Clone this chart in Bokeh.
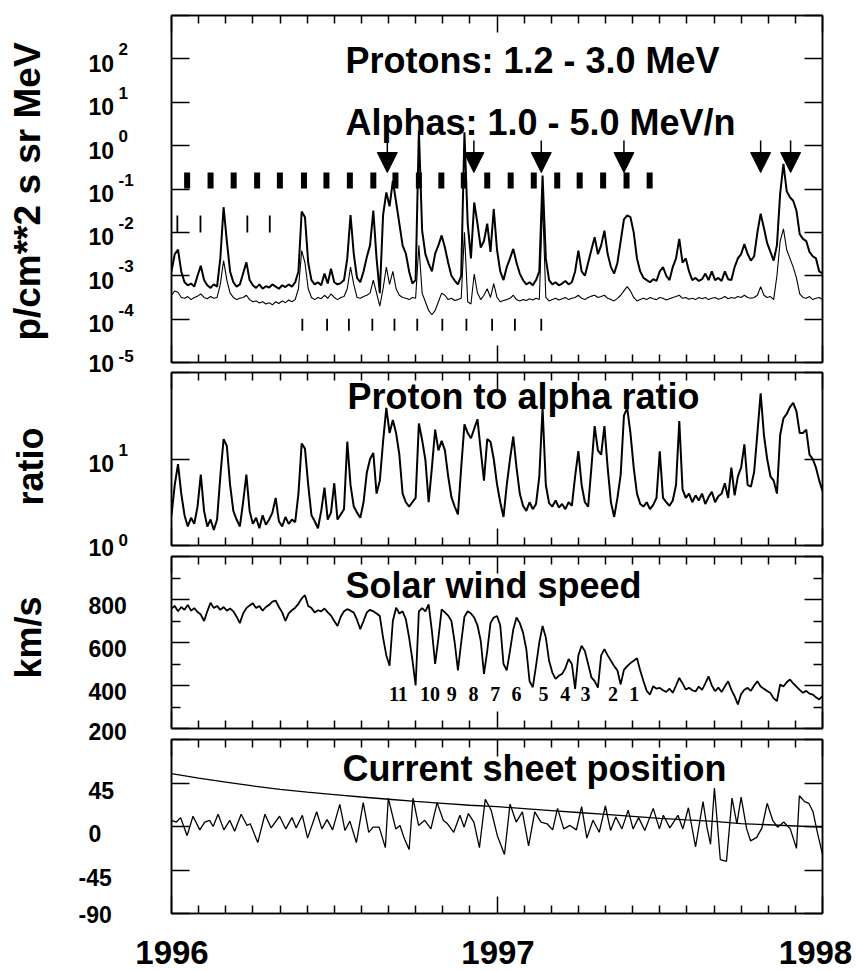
import numpy as np
from bokeh.plotting import figure
from bokeh.layouts import column, row
from bokeh.models import (Range1d, FixedTicker, LinearAxis, LogAxis, Label,
                          Arrow, NormalHead, ColumnDataSource, CustomJSTickFormatter)
from bokeh.embed import file_html
from bokeh.resources import INLINE
from bokeh.core.properties import value

SANS = "Liberation Sans"
SERIF = "Liberation Serif"

# ---------------------------------------------------------------- data
# quantities sampled every 0.01 yr from 1996.00 to 1998.00
sample_years = 1996 + np.arange(201) / 100.0

# proton and alpha intensities, log10(p/cm**2 s sr MeV)
proton_log10 = [
    -2.90, -2.50, -2.40, -2.90, -3.15, -3.22, -3.18, -3.25, -3.00, -2.77,
    -3.10, -3.22, -3.28, -3.20, -3.25, -2.60, -1.42, -2.20, -2.90, -3.15,
    -3.25, -3.20, -2.95, -2.69, -3.10, -3.22, -3.28, -3.20, -3.30, -3.24,
    -3.27, -3.20, -3.25, -3.30, -3.22, -3.26, -3.20, -3.25, -3.15, -2.90,
    -1.52, -1.65, -2.70, -3.10, -3.20, -3.15, -3.22, -2.95, -3.18, -2.84,
    -3.15, -3.20, -3.17, -3.10, -2.60, -1.60, -2.50, -3.05, -3.15, -2.90,
    -2.57, -2.30, -1.50, -2.60, -3.40, -1.60, -1.08, -1.40, -0.81, -1.30,
    -1.80, -2.30, -2.49, -2.90, -3.18, -3.10, 0.35, -1.96, -2.50, -2.72,
    -2.90, -2.49, -2.30, -2.07, -2.35, -2.70, -3.00, -3.11, -3.20, -3.00,
    0.31, -1.80, -2.60, -1.31, -1.80, -2.35, -2.20, -1.80, -2.45, -1.46,
    -2.40, -2.90, -3.10, -2.80, -2.60, -2.38, -2.70, -2.95, -3.10, -3.20,
    -3.15, -3.22, -3.10, -2.90, -0.69, -2.60, -3.10, -3.20, -3.15, -3.22,
    -3.18, -3.12, -3.20, -3.15, -2.90, -2.42, -2.90, -3.00, -2.70, -2.40,
    -2.11, -2.50, -2.30, -1.96, -2.50, -2.80, -2.95, -2.70, -2.20, -1.70,
    -1.61, -1.65, -2.00, -2.60, -2.90, -3.05, -3.10, -3.15, -3.08, -3.12,
    -2.90, -2.80, -3.00, -3.10, -2.80, -2.60, -2.15, -2.70, -2.60, -2.90,
    -3.10, -3.05, -3.12, -3.08, -2.95, -3.10, -2.90, -3.10, -3.05, -3.12,
    -2.90, -3.08, -3.10, -2.80, -2.60, -2.50, -2.27, -2.50, -2.65, -2.55,
    -2.00, -1.57, -1.90, -2.25, -2.45, -2.65, -2.30, -1.10, -0.42, -1.05,
    -1.19, -1.27, -1.50, -2.04, -2.15, -2.20, -2.45, -2.55, -2.60, -2.90,
    -2.95,
]

alpha_log10 = [
    -3.45, -3.35, -3.38, -3.50, -3.52, -3.48, -3.55, -3.50, -3.47, -3.42,
    -3.50, -3.53, -3.48, -3.52, -3.50, -3.20, -2.65, -3.10, -3.40, -3.50,
    -3.55, -3.52, -3.50, -3.45, -3.55, -3.60, -3.58, -3.63, -3.60, -3.65,
    -3.62, -3.67, -3.60, -3.64, -3.58, -3.62, -3.56, -3.60, -3.55, -3.30,
    -2.42, -2.70, -3.30, -3.50, -3.55, -3.50, -3.53, -3.45, -3.52, -3.42,
    -3.50, -3.55, -3.50, -3.48, -3.30, -2.80, -3.20, -3.50, -3.52, -3.48,
    -3.45, -3.40, -3.10, -3.40, -3.70, -3.30, -2.80, -3.20, -2.90, -3.30,
    -3.45, -3.50, -3.52, -3.55, -3.50, -3.52, -2.30, -3.40, -3.60, -3.80,
    -3.90, -3.80, -3.60, -3.40, -3.45, -3.55, -3.52, -3.57, -3.55, -3.52,
    -2.00, -3.60, -3.65, -2.96, -3.40, -3.55, -3.45, -3.30, -3.50, -3.18,
    -3.50, -3.60, -3.57, -3.55, -3.52, -3.45, -3.55, -3.58, -3.55, -3.57,
    -3.53, -3.56, -3.52, -3.55, -1.30, -3.50, -3.58, -3.55, -3.52, -3.56,
    -3.53, -3.50, -3.55, -3.52, -3.50, -3.45, -3.52, -3.55, -3.50, -3.47,
    -3.45, -3.50, -3.48, -3.45, -3.52, -3.55, -3.58, -3.52, -3.45, -3.35,
    -3.25, -3.35, -3.50, -3.58, -3.55, -3.52, -3.55, -3.50, -3.53, -3.55,
    -3.50, -3.52, -3.56, -3.53, -3.50, -3.48, -3.45, -3.52, -3.50, -3.54,
    -3.52, -3.55, -3.50, -3.53, -3.50, -3.55, -3.52, -3.50, -3.54, -3.52,
    -3.48, -3.53, -3.50, -3.52, -3.48, -3.50, -3.45, -3.50, -3.52, -3.50,
    -3.45, -3.25, -3.45, -3.50, -3.48, -3.55, -3.00, -2.20, -1.92, -2.40,
    -2.60, -2.80, -3.05, -3.42, -3.50, -3.52, -3.48, -3.55, -3.52, -3.50,
    -3.55,
]

# proton to alpha ratio, log10
ratio_log10 = [
    0.35, 0.70, 0.94, 0.60, 0.35, 0.22, 0.32, 0.25, 0.45, 0.82,
    0.40, 0.22, 0.30, 0.18, 0.30, 0.80, 1.23, 1.15, 0.70, 0.40,
    0.30, 0.22, 0.50, 0.82, 0.40, 0.25, 0.32, 0.20, 0.35, 0.24,
    0.30, 0.38, 0.55, 0.28, 0.22, 0.33, 0.25, 0.30, 0.27, 0.60,
    1.18, 1.12, 0.70, 0.35, 0.28, 0.20, 0.40, 0.67, 0.30, 0.38,
    0.72, 0.30, 0.36, 0.42, 1.20, 0.70, 0.45, 0.38, 0.32, 0.50,
    0.84, 1.00, 1.07, 0.60, 0.75, 1.20, 1.59, 1.30, 1.45, 1.30,
    1.05, 0.60, 0.50, 0.45, 0.50, 0.55, 1.41, 1.22, 0.99, 0.50,
    0.90, 1.34, 1.10, 1.21, 1.10, 0.80, 0.56, 0.45, 0.36, 0.90,
    1.40, 1.30, 1.24, 1.35, 1.46, 1.10, 0.75, 1.23, 1.20, 1.00,
    0.71, 0.50, 0.33, 0.70, 1.00, 1.26, 0.90, 0.60, 0.46, 0.40,
    0.50, 0.42, 0.48, 0.80, 1.59, 0.70, 0.49, 0.45, 0.52, 0.44,
    0.48, 0.42, 0.50, 0.46, 0.80, 1.09, 0.70, 0.50, 0.45, 0.90,
    1.38, 1.10, 1.05, 1.38, 0.90, 0.50, 0.33, 0.55, 0.82, 1.50,
    1.59, 1.30, 0.90, 0.60, 0.48, 0.45, 0.50, 0.42, 0.47, 0.55,
    1.09, 0.55, 0.50, 0.46, 0.52, 0.70, 1.44, 0.65, 0.55, 0.60,
    0.50, 0.58, 0.52, 0.60, 0.48, 0.56, 0.62, 0.50, 0.57, 0.60,
    0.72, 0.55, 0.90, 0.58, 0.80, 0.90, 1.17, 0.70, 0.68, 0.85,
    1.30, 1.76, 1.28, 1.00, 0.80, 0.75, 0.60, 1.28, 1.47, 1.52,
    1.60, 1.65, 1.55, 1.30, 1.30, 1.34, 1.05, 1.00, 0.90, 0.75,
    0.63,
]

# solar wind speed, km/s
wind_speed = [
    758, 770, 745, 765, 752, 775, 748, 760, 742, 730,
    700, 745, 785, 760, 770, 752, 765, 748, 758, 745,
    720, 690, 735, 760, 772, 782, 760, 770, 748, 765,
    775, 790, 795, 765, 740, 700, 735, 750, 762, 780,
    805, 820, 770, 760, 740, 750, 745, 758, 740, 725,
    700, 677, 720, 745, 755, 748, 739, 705, 662, 700,
    740, 752, 745, 735, 723, 623, 540, 492, 700, 762,
    735, 745, 708, 623, 520, 400, 745, 760, 745, 777,
    654, 500, 620, 754, 740, 725, 700, 600, 470, 600,
    720, 745, 735, 716, 680, 608, 454, 560, 690, 716,
    723, 680, 500, 470, 562, 660, 716, 690, 646, 570,
    420, 392, 492, 600, 677, 623, 515, 460, 431, 445,
    454, 480, 523, 500, 384, 540, 585, 560, 500, 438,
    420, 390, 540, 569, 540, 515, 490, 470, 405, 473,
    490, 504, 515, 527, 470, 420, 375, 358, 397, 385,
    389, 378, 370, 385, 366, 400, 435, 410, 381, 390,
    378, 372, 395, 380, 410, 443, 400, 374, 390, 370,
    395, 420, 380, 350, 312, 360, 380, 389, 375, 400,
    420, 395, 385, 374, 365, 340, 328, 405, 395, 415,
    428, 410, 395, 380, 366, 375, 362, 358, 345, 335,
    351,
]

# recurrence markers in the intensity panel
rotation_years = [1996.048, 1996.120, 1996.191, 1996.263, 1996.333, 1996.407,
                  1996.476, 1996.548, 1996.620, 1996.688, 1996.760, 1996.829,
                  1996.898, 1996.970, 1997.042, 1997.113, 1997.185, 1997.254,
                  1997.326, 1997.398, 1997.469]
upper_mark_years = [1996.018, 1996.089, 1996.233, 1996.302]
lower_mark_years = [1996.402, 1996.478, 1996.545, 1996.617, 1996.685, 1996.755,
                    1996.832, 1996.906, 1996.985, 1997.055, 1997.136]
arrow_years = [1996.663, 1996.929, 1997.136, 1997.390, 1997.810, 1997.902]

# numbered slow-wind intervals
stream_labels = ["11", "10", "9", "8", "7", "6", "5", "4", "3", "2", "1"]
stream_years = [1996.697, 1996.794, 1996.861, 1996.928, 1996.995, 1997.060,
                1997.143, 1997.210, 1997.272, 1997.356, 1997.422]

# current sheet latitude (deg) and maximum tilt
cs_offsets = [
    0.000, 0.015, 0.028, 0.048, 0.066, 0.087, 0.102, 0.117, 0.128, 0.143,
    0.161, 0.179, 0.194, 0.214, 0.232, 0.242, 0.265, 0.287, 0.306, 0.332,
    0.351, 0.370, 0.383, 0.402, 0.418, 0.446, 0.462, 0.478, 0.495, 0.517,
    0.533, 0.548, 0.568, 0.589, 0.606, 0.619, 0.638, 0.657, 0.666, 0.689,
    0.702, 0.714, 0.730, 0.742, 0.759, 0.778, 0.797, 0.816, 0.835, 0.848,
    0.867, 0.886, 0.899, 0.912, 0.929, 0.946, 0.964, 0.982, 1.001, 1.023,
    1.040, 1.059, 1.078, 1.097, 1.116, 1.135, 1.154, 1.171, 1.186, 1.205,
    1.224, 1.244, 1.260, 1.276, 1.295, 1.314, 1.333, 1.349, 1.365, 1.384,
    1.403, 1.418, 1.435, 1.454, 1.480, 1.499, 1.511, 1.531, 1.556, 1.571,
    1.588, 1.610, 1.633, 1.645, 1.656, 1.668, 1.686, 1.705, 1.722, 1.737,
    1.750, 1.767, 1.779, 1.798, 1.814, 1.830, 1.847, 1.862, 1.881, 1.901,
    1.920, 1.929, 1.945, 1.958, 1.971, 1.983, 2.000,
]
cs_latitude = [
    6.4, 4.6, 9.2, -9.5, 10.6, -3.5, 4.6, 6.4, 0.0, 12.7,
    -3.5, 6.4, -4.9, 12.7, 1.1, 2.8, -16.6, 12.7, -1.4, 10.6,
    -2.5, 9.2, -1.4, 11.6, -12.0, 15.2, -2.5, 7.1, -3.5, 22.9,
    -4.2, 5.6, -16.6, 24.7, -6.0, -0.7, -0.7, -21.9, 29.3, -2.5,
    1.1, -11.3, -23.7, 29.3, 1.1, 6.4, -2.5, 24.7, 6.4, 2.8,
    -6.0, 11.6, -0.7, 13.4, 4.6, -21.9, 28.2, 16.9, -9.5, -28.9,
    23.3, 4.6, 15.2, -20.1, 15.2, 4.6, 2.8, -3.5, 18.7, -2.5,
    1.1, -3.5, 20.5, -12.0, 6.4, -6.0, 21.2, -4.2, 9.9, -2.5,
    16.9, -2.5, 9.2, -4.2, 18.7, -2.5, 11.6, -1.4, 11.6, -2.5,
    19.4, -21.2, 25.8, -0.7, -18.4, 39.9, -34.2, -36.0, 29.3, 2.8,
    30.4, -2.5, -14.8, -11.3, -1.4, 24.0, 6.4, -0.7, 4.6, -2.5,
    -22.6, 31.8, 25.8, 24.0, 15.2, -4.2, -28.9,
]
tilt_years = 1996 + np.arange(25) / 12.0
tilt_angle = [54.7, 50.0, 46.0, 42.0, 38.5, 35.5, 33.0, 30.5, 28.2, 26.0,
              24.0, 22.0, 20.5, 18.5, 16.5, 14.5, 12.5, 10.5, 8.5, 6.8,
              5.2, 3.0, 1.8, 0.5, -0.7]

# ---------------------------------------------------------------- geometry
X0, X1 = 1996.0, 1998.0
STRIP_W = 161          # width of the left label column
PLOT_W = 856 - STRIP_W
FRAME_L, FRAME_R = 10, 34
PX_PER_YEAR = (PLOT_W - FRAME_L - FRAME_R) / (X1 - X0)
month_ticks = [1996 + k / 12.0 for k in range(1, 24) if k != 12]
blank = CustomJSTickFormatter(code="return ' '")


def style_axis(ax, ticks, minor=(), major_len=18, minor_len=8):
    ax.ticker = FixedTicker(ticks=list(ticks), minor_ticks=list(minor))
    ax.formatter = blank
    ax.major_tick_in = major_len
    ax.major_tick_out = 0
    ax.minor_tick_in = minor_len
    ax.minor_tick_out = 0
    ax.major_tick_line_width = 1.5
    ax.minor_tick_line_width = 1.5
    ax.axis_line_width = 1.5
    ax.major_label_text_font_size = "2px"
    ax.major_label_standoff = 0


def panel(height, y_range, y_type, top, bottom, yticks, yminor=(), ymin_len=8):
    p = figure(width=PLOT_W, height=height, x_range=Range1d(X0, X1), y_range=y_range,
               y_axis_type=y_type, output_backend="svg", toolbar_location=None,
               min_border_left=FRAME_L, min_border_right=FRAME_R,
               min_border_top=top, min_border_bottom=bottom)
    p.grid.visible = False
    p.outline_line_color = "black"
    p.outline_line_width = 1.5
    p.background_fill_color = "white"
    p.border_fill_color = "white"
    p.add_layout(LogAxis() if y_type == "log" else LinearAxis(), "right")
    p.add_layout(LinearAxis(), "above")
    for ax in p.xaxis:
        style_axis(ax, [1996, 1997, 1998], month_ticks, major_len=17, minor_len=8)
    for ax in p.yaxis:
        style_axis(ax, yticks, yminor, major_len=18, minor_len=ymin_len)
    return p


def title(p, x, y, s, dx, dy):
    # dy: pixels from the anchor to the vertical centre of the capitals
    p.add_layout(Label(x=x, y=y, x_offset=dx, y_offset=dy, text=s,
                       text_font=SANS, text_font_size="36px",
                       text_font_style="bold", text_align="left",
                       text_baseline="middle", text_color="black"))


# ---------------------------------------------------------------- panel 1: intensities
p1 = panel(367, Range1d(1e-5, 1e3), "log", 15, 5, [10.0 ** k for k in range(-5, 4)])
p1.line(sample_years, 10.0 ** np.array(proton_log10), line_color="black", line_width=2.0)
p1.line(sample_years, 10.0 ** np.array(alpha_log10), line_color="black", line_width=1.1)

n = len(rotation_years)
p1.segment(x0=rotation_years, y0=[10 ** -0.99] * n, x1=rotation_years, y1=[10 ** -0.62] * n,
           line_color="black", line_width=6)
n = len(upper_mark_years)
p1.segment(x0=upper_mark_years, y0=[10 ** -2.0] * n, x1=upper_mark_years, y1=[10 ** -1.61] * n,
           line_color="black", line_width=1.8)
n = len(lower_mark_years)
p1.segment(x0=lower_mark_years, y0=[10 ** -4.27] * n, x1=lower_mark_years, y1=[10 ** -3.99] * n,
           line_color="black", line_width=1.8)

n = len(arrow_years)
arrow_src = ColumnDataSource(dict(x=arrow_years, y0=[10 ** 0.12] * n, y1=[10 ** -0.62] * n))
p1.add_layout(Arrow(end=NormalHead(size=20, fill_color="black", line_color="black", line_width=1),
                    x_start="x", y_start="y0", x_end="x", y_end="y1", source=arrow_src,
                    line_color="black", line_width=1.5))
title(p1, X0, 1e3, "Protons: 1.2 - 3.0 MeV", 174, -45)
title(p1, X0, 1e3, "Alphas: 1.0 - 5.0 MeV/n", 174, -107)

# ---------------------------------------------------------------- panel 2: ratio
p2 = panel(183, Range1d(1, 100), "log", 5, 5, [1, 10, 100])
p2.line(sample_years, 10.0 ** np.array(ratio_log10), line_color="black", line_width=2.0)
title(p2, X0, 100, "Proton to alpha ratio", 176, -23.5)

# ---------------------------------------------------------------- panel 3: solar wind
p3 = panel(183, Range1d(200, 1000), "linear", 6, 5, [200, 400, 600, 800, 1000],
           [300, 500, 700, 900], ymin_len=9)
p3.line(sample_years, wind_speed, line_color="black", line_width=1.8)
p3.text(x=stream_years, y=[362] * len(stream_years), text=stream_labels,
        text_font=value(SERIF), text_font_style="bold", text_font_size="20px",
        text_align="center", text_baseline="middle", text_color="black")
title(p3, X0, 1000, "Solar wind speed", 174, -28.5)

# ---------------------------------------------------------------- panel 4: current sheet
P4_H = 197
p4 = panel(P4_H, Range1d(-90, 90), "linear", 6, P4_H - 6 - 174, [-90, -45, 0, 45, 90])
p4.line(1996 + np.array(cs_offsets), cs_latitude, line_color="black", line_width=1.3)
p4.line(tilt_years, tilt_angle, line_color="black", line_width=1.3)
title(p4, X0, 90, "Current sheet position", 171, -28.5)

# ---------------------------------------------------------------- left label column
# page-pixel position of a value on each panel's y scale
frames = {
    "flux": (15, 362, 1e-5, 1e3, True),
    "ratio": (372, 545, 1.0, 100.0, True),
    "speed": (556, 728, 200.0, 1000.0, False),
    "lat": (739, 913, -90.0, 90.0, False),
}


def ypx(name, v, shift=0.0):
    top, bot, lo, hi, log = frames[name]
    f = np.log10 if log else (lambda z: z)
    return top + (f(hi) - f(v)) / (f(hi) - f(lo)) * (bot - top) + shift


COL_H = 367 + 183 + 183 + P4_H
strip = figure(width=STRIP_W, height=COL_H, x_range=Range1d(0, STRIP_W),
               y_range=Range1d(COL_H, 0), x_axis_location=None, y_axis_location=None,
               output_backend="svg", toolbar_location=None, min_border=0)
strip.grid.visible = False
strip.outline_line_color = None
strip.background_fill_color = "white"
strip.border_fill_color = "white"

base_x, base_y, base_t = [], [], []
exp_x, exp_y, exp_t = [], [], []
for k in [2, 1, 0, -1, -2, -3, -4, -5]:
    yc = ypx("flux", 10.0 ** k, 4.5 if k > -5 else 1.0)
    base_x.append(88); base_y.append(yc); base_t.append("10")
    exp_x.append(118); exp_y.append(yc - (14 if k > -5 else 8)); exp_t.append(str(k))
for k in [1, 0]:
    yc = ypx("ratio", 10.0 ** k, 4.5 if k > 0 else 2.0)
    base_x.append(88); base_y.append(yc); base_t.append("10")
    exp_x.append(118); exp_y.append(yc - (14 if k > 0 else 8)); exp_t.append(str(k))
for v in [800, 600, 400, 200]:
    base_x.append(88); base_y.append(ypx("speed", v, 6 if v > 200 else 3))
    base_t.append(str(v))
for v, x in [(45, 88), (0, 88), (-45, 78), (-90, 78)]:
    base_x.append(x); base_y.append(ypx("lat", v, 7 if v > -90 else 1.0))
    base_t.append(str(v))

strip.text(x=base_x, y=base_y, text=base_t, text_font=value(SANS),
           text_font_style="bold", text_font_size="23px", text_align="left",
           text_baseline="middle", text_color="black")
strip.text(x=exp_x, y=exp_y, text=exp_t, text_font=value(SANS),
           text_font_style="bold", text_font_size="17px", text_align="left",
           text_baseline="middle", text_color="black")
strip.text(x=[27], y=[191], text=["p/cm**2 s sr MeV"],
           angle=np.pi / 2, text_font=value(SANS), text_font_style="bold",
           text_font_size="37px", text_align="center", text_baseline="middle",
           text_color="black")
strip.text(x=[30, 28], y=[466, 637], text=["ratio", "km/s"],
           angle=np.pi / 2, text_font=value(SANS), text_font_style="bold",
           text_font_size="36px", text_align="center", text_baseline="middle",
           text_color="black")

# ---------------------------------------------------------------- year labels
YEAR_H = 971 - COL_H
years_fig = figure(width=856, height=YEAR_H,
                   x_range=Range1d(X0 - (STRIP_W + FRAME_L) / PX_PER_YEAR,
                                   X1 + FRAME_R / PX_PER_YEAR),
                   y_range=Range1d(YEAR_H, 0), x_axis_location=None, y_axis_location=None,
                   output_backend="svg", toolbar_location=None, min_border=0)
years_fig.grid.visible = False
years_fig.outline_line_color = None
years_fig.background_fill_color = "white"
years_fig.border_fill_color = "white"
# year numbers centred in this strip
years_fig.text(x=[1996 + 0.5 / PX_PER_YEAR, 1997 + 1 / PX_PER_YEAR, 1998 - 7 / PX_PER_YEAR],
               y=[YEAR_H / 2 + 1] * 3, text=["1996", "1997", "1998"], text_font=value(SANS),
               text_font_style="bold", text_font_size="33px", text_align="center",
               text_baseline="middle", text_color="black")

layout = column(row(strip, column(p1, p2, p3, p4, spacing=0), spacing=0),
                years_fig, spacing=0)
open("out.html", "w").write(file_html(layout, INLINE))
